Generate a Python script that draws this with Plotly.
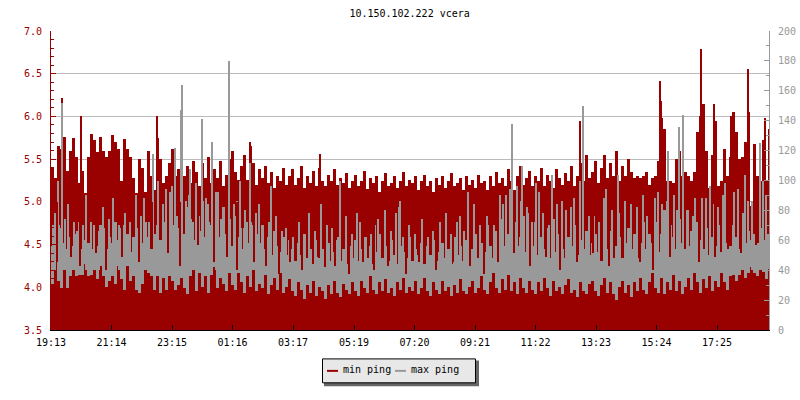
import plotly.graph_objects as go

title_text = "10.150.102.222 vcera"
series_names = ["min ping", "max ping"]
tick_minutes = [0, 121, 242, 363, 484, 606, 727, 848, 969, 1090, 1211, 1332]
tick_labels = ["19:13", "21:14", "23:15", "01:16", "03:17", "05:19", "07:20", "09:21", "11:22", "13:23", "15:24", "17:25"]

# min ping envelope, left axis, one value per 6 minutes
min_ping = [
5.41,5.28,5.65,5.62,5.76,5.36,5.60,5.75,5.52,5.22,5.36,5.10,5.52,5.80,5.72,5.58,5.76,5.60,5.52,5.60,
5.78,5.70,5.62,5.25,5.73,5.62,5.52,5.28,5.10,5.50,5.40,5.12,5.60,5.30,5.14,5.75,5.50,5.22,5.30,5.45,
5.62,5.30,5.38,5.55,5.30,5.42,5.22,5.48,5.35,5.18,5.45,5.28,5.52,5.22,5.38,5.28,5.48,5.18,5.32,5.50,
5.60,5.35,5.26,5.42,5.55,5.26,5.65,5.45,5.20,5.38,5.28,5.42,5.22,5.35,5.16,5.30,5.24,5.40,5.20,5.30,
5.38,5.20,5.28,5.42,5.16,5.30,5.22,5.36,5.18,5.40,5.25,5.18,5.32,5.24,5.38,5.20,5.28,5.22,5.34,5.16,
5.25,5.32,5.18,5.24,5.36,5.15,5.28,5.22,5.30,5.12,5.24,5.34,5.18,5.22,5.30,5.16,5.24,5.35,5.18,5.26,
5.22,5.30,5.14,5.24,5.32,5.18,5.25,5.12,5.28,5.20,5.30,5.16,5.24,5.34,5.18,5.22,5.28,5.14,5.30,5.20,
5.26,5.16,5.32,5.22,5.25,5.14,5.30,5.18,5.35,5.22,5.28,5.18,5.38,5.24,5.14,5.30,5.42,5.20,5.28,5.36,
5.18,5.30,5.24,5.40,5.18,5.32,5.25,5.16,5.38,5.28,5.20,5.34,5.24,5.42,5.18,5.30,5.45,5.24,5.55,5.28,
5.35,5.48,5.22,5.40,5.55,5.28,5.45,5.30,5.60,5.25,5.42,5.30,5.50,5.35,5.28,5.30,5.28,5.30,5.35,5.20,
5.28,5.30,5.48,5.98,5.85,5.24,5.24,5.22,5.50,5.60,5.30,5.35,5.30,5.24,5.35,5.82,6.00,6.15,5.60,5.16,
5.55,5.95,5.18,5.25,5.62,5.30,5.52,6.05,5.82,5.50,5.52,5.70,6.05,4.95,5.68,5.30,5.24,5.72,5.24,5.85,
]
# max ping solid band, right axis
max_floor = [
31,48,33,28,40,28,36,40,36,37,37,44,36,37,40,34,43,36,29,33,
36,31,43,34,27,43,33,36,27,25,31,40,38,36,27,36,25,35,27,36,
33,27,30,35,28,24,36,40,26,38,29,36,25,37,42,28,35,31,26,38,
30,27,38,32,25,36,29,40,26,31,28,37,24,30,35,27,38,25,29,34,
26,23,32,27,21,30,25,33,23,29,26,21,30,24,33,25,22,31,27,24,
32,26,23,33,28,25,36,27,24,32,26,34,25,28,23,32,27,35,25,29,
26,33,24,28,35,26,23,32,27,24,33,26,29,23,30,25,34,26,24,29,
33,25,28,36,27,24,32,38,28,25,34,27,37,26,32,24,35,28,25,33,
27,24,32,26,35,28,23,33,26,29,24,30,34,25,27,22,32,26,24,31,
33,26,23,30,35,25,32,24,20,29,33,25,30,22,32,26,35,27,24,32,
38,28,25,35,24,32,27,37,26,33,24,29,35,27,38,32,25,34,28,36,
26,33,29,38,32,27,36,37,33,37,40,35,38,42,38,36,40,39,34,41,
]
max_band = [
56,60,70,64,58,54,62,56,64,72,54,60,58,54,66,56,70,68,54,62,
58,72,60,68,70,64,52,62,68,66,58,72,62,54,64,70,60,72,64,58,
70,62,68,76,64,82,74,60,78,66,86,62,72,58,80,66,62,82,64,74,
56,76,62,54,68,58,72,52,64,58,70,54,62,50,66,56,52,62,50,60,
54,46,58,50,64,48,54,44,60,48,54,42,58,46,52,60,46,54,44,56,
48,60,46,54,62,48,56,44,52,64,48,56,46,60,50,44,56,52,48,62,
46,54,50,58,44,56,50,60,46,52,58,48,54,44,62,50,56,46,60,48,
54,64,48,58,52,70,56,48,66,54,74,56,64,50,72,56,62,76,52,64,
56,72,50,62,54,68,48,58,52,64,54,48,62,56,70,50,60,54,66,50,
58,64,52,46,60,54,66,48,56,62,48,58,68,54,64,48,58,72,54,64,
58,72,52,64,80,56,70,62,54,74,58,80,56,66,52,72,60,54,68,50,
62,56,70,52,64,58,56,70,62,54,64,58,66,60,64,58,68,60,64,64,
]
# tall single-sample peaks
red_peak_minutes = [22, 60, 212, 398, 538, 1058, 1218, 1220, 1222, 1300, 1326, 1360, 1366, 1394, 1394, 1428]
red_peak_values = [6.21, 6.00, 6.00, 5.70, 5.56, 5.95, 6.42, 6.18, 5.95, 6.79, 6.15, 6.00, 5.98, 6.30, 6.55, 5.98]
gray_peak_minutes = [14, 22, 204, 230, 248, 260, 262, 278, 302, 322, 356, 378, 398, 440, 578, 698, 834, 898, 922, 942, 970, 1002, 1058, 1064, 1110, 1134, 1208, 1234, 1256, 1264, 1288, 1318, 1348, 1388, 1418, 1424]
gray_peak_values = [100, 152, 118, 94, 122, 147, 164, 108, 141, 126, 180, 100, 112, 96, 100, 86, 92, 90, 138, 110, 98, 104, 100, 150, 94, 104, 88, 120, 136, 144, 88, 96, 98, 104, 125, 100]
gray_spike_minutes = [4, 8, 18, 28, 34, 46, 52, 64, 70, 80, 86, 96, 104, 116, 124, 136, 148, 158, 170, 180, 186, 196, 214, 224, 238, 252, 270, 284, 290, 304, 310, 318, 330, 340, 346, 358, 366, 380, 388, 402, 410, 424, 436, 450, 462, 470, 484, 496, 508, 516, 528, 540, 552, 562, 574, 590, 602, 618, 630, 640, 654, 668, 680, 690, 704, 716, 728, 742, 754, 764, 778, 790, 800, 812, 826, 846, 858, 872, 886, 910, 932, 952, 962, 984, 996, 1012, 1030, 1046, 1076, 1096, 1122, 1148, 1172, 1192, 1222, 1246, 1274, 1302, 1334, 1366, 1402,
    242, 258, 276, 296, 314, 334, 352, 372, 392, 416, 568, 612, 648, 696, 736, 770, 818, 866, 904, 918, 940, 956, 976, 1006, 1022, 1040, 1086, 1106, 1136, 1160, 1184, 1204, 1214, 1232, 1252, 1284, 1310, 1326, 1344, 1374, 1384, 1394, 1410, 1430]
gray_spike_values = [70, 78, 68, 74, 84, 72, 66, 70, 90, 72, 70, 66, 82, 74, 88, 70, 78, 72, 90, 76, 88, 72, 100, 84, 92, 76, 86, 72, 98, 76, 88, 70, 92, 74, 78, 70, 84, 68, 80, 70, 78, 66, 72, 76, 66, 68, 62, 72, 64, 78, 66, 84, 70, 68, 62, 76, 64, 72, 62, 64, 74, 80, 66, 78, 62, 70, 64, 74, 62, 66, 72, 78, 64, 72, 66, 84, 70, 76, 70, 90, 96, 82, 72, 78, 70, 84, 80, 88, 76, 72, 80, 86, 82, 76, 84, 90, 80, 88, 82, 92, 86,
    96, 84, 90, 76, 84, 92, 78, 86, 72, 84, 72, 78, 70, 82, 74, 68, 76, 70, 84, 94, 86, 78, 92, 74, 86, 82, 76, 88, 78, 84, 90, 78, 92, 86, 80, 76, 88, 84, 90, 94, 78, 86, 82, 90]
# thin min-ping streaks that show through the max-ping band
streak_minutes = [12, 40, 58, 90, 110, 142, 176, 202, 234, 258, 294, 326, 352, 372, 406, 430, 456, 478, 502, 534, 568, 596, 624, 646, 674, 710, 736, 770, 804, 838, 866, 894, 926, 958, 990, 1018, 1052, 1084, 1116, 1142, 1178, 1204, 1238, 1268, 1296, 1328, 1354, 1380, 1410]
streak_floor = [4.30, 4.35, 4.25, 4.40, 4.20, 4.35, 4.30, 4.45, 4.40, 4.25, 4.50, 4.30, 4.35, 4.20, 4.30, 4.25, 4.15, 4.30, 4.20, 4.35, 4.25, 4.15, 4.30, 4.20, 4.25, 4.15, 4.30, 4.20, 4.30, 4.25, 4.15, 4.30, 4.40, 4.25, 4.35, 4.20, 4.30, 4.40, 4.25, 4.35, 4.30, 4.20, 4.35, 4.45, 4.30, 4.35, 4.45, 4.40, 4.50]

RED = "#990000"
GRAY = "#999999"
MONO = "DejaVu Sans Mono"

col_minutes = [6 * i + 3 for i in range(len(min_ping))]

fig = go.Figure()
fig.add_bar(x=col_minutes, y=min_ping, width=6, marker=dict(color=RED, line=dict(width=0)), name=series_names[0], yaxis="y", showlegend=False)
fig.add_bar(x=red_peak_minutes, y=red_peak_values, width=2, marker=dict(color=RED, line=dict(width=0)), name=series_names[0], yaxis="y", showlegend=False)
fig.add_bar(x=col_minutes, y=[t - f for t, f in zip(max_band, max_floor)], base=max_floor, width=6, marker=dict(color=GRAY, line=dict(width=0)), name=series_names[1], yaxis="y2", showlegend=False)
fig.add_bar(x=gray_spike_minutes, y=[v - 40 for v in gray_spike_values], base=40, width=2, marker=dict(color=GRAY, line=dict(width=0)), name=series_names[1], yaxis="y2", showlegend=False)
fig.add_bar(x=gray_peak_minutes, y=[v - 40 for v in gray_peak_values], base=40, width=2, marker=dict(color=GRAY, line=dict(width=0)), name=series_names[1], yaxis="y2", showlegend=False)
fig.add_bar(x=streak_minutes, y=[5.0 - f for f in streak_floor], base=streak_floor, width=2, marker=dict(color=RED, line=dict(width=0)), name=series_names[0], yaxis="y3", showlegend=False)

L, R, T, B = 51, 769, 30.5, 330.5
def px(x):
    return (x - L) / (R - L)
def py(y):
    return (B - y) / (B - T)

shapes = [
    dict(type="rect", xref="paper", yref="paper", x0=px(324), x1=px(479), y0=py(361), y1=py(387), fillcolor="#666666", line=dict(width=0), layer="above"),
    dict(type="rect", xref="paper", yref="paper", x0=px(322.5), x1=px(475.5), y0=py(359.5), y1=py(383.5), fillcolor="#e8e8e8", line=dict(color="black", width=1), layer="above"),
    dict(type="line", xref="paper", yref="paper", x0=px(327), x1=px(338), y0=py(371.5), y1=py(371.5), line=dict(color=RED, width=2), layer="above"),
    dict(type="line", xref="paper", yref="paper", x0=px(395), x1=px(406), y0=py(371.5), y1=py(371.5), line=dict(color=GRAY, width=2), layer="above"),
]
annotations = [
    dict(text=series_names[0], xref="paper", yref="paper", x=px(341.5), y=py(370.5), xanchor="left", yanchor="middle", showarrow=False, borderpad=0, font=dict(family=MONO, size=10, color="black")),
    dict(text=series_names[1], xref="paper", yref="paper", x=px(409.5), y=py(370.5), xanchor="left", yanchor="middle", showarrow=False, borderpad=0, font=dict(family=MONO, size=10, color="black")),
]

fig.update_layout(
    width=800, height=400, autosize=False,
    margin=dict(l=51, r=31, t=30.5, b=69.5, pad=0, autoexpand=False),
    paper_bgcolor="white", plot_bgcolor="white",
    barmode="overlay", bargap=0, showlegend=False,
    title=dict(text=title_text, x=0.512, xanchor="center", y=1 - 13.5 / 400, yanchor="middle", yref="container", font=dict(family=MONO, size=10, color="black")),
    xaxis=dict(range=[0, 1436], automargin=False, tickmode="array", tickvals=tick_minutes, ticktext=tick_labels, ticks="inside", ticklen=5, tickwidth=1, tickcolor="black", showline=True, linecolor="black", linewidth=1, showgrid=False, zeroline=False, ticklabelstandoff=3, tickfont=dict(family=MONO, size=10, color="black"), tickangle=0),
    yaxis=dict(range=[3.5, 7], automargin=False, tick0=3.5, dtick=0.5, tickformat=".1f", ticks="inside", ticklen=5, tickwidth=1, tickcolor=RED, showline=True, linecolor=RED, linewidth=1, showgrid=True, gridcolor="#bbbbbb", gridwidth=1, zeroline=False, ticklabelstandoff=6, tickfont=dict(family=MONO, size=10, color=RED), minor=dict(dtick=0.1, ticks="inside", ticklen=3, tickwidth=1, tickcolor=RED, showgrid=False)),
    yaxis2=dict(range=[0, 200], automargin=False, overlaying="y", side="right", tick0=0, dtick=20, ticks="inside", ticklen=5, tickwidth=1, tickcolor=GRAY, showline=True, linecolor=GRAY, linewidth=1, showgrid=False, zeroline=False, ticklabelstandoff=6, tickfont=dict(family=MONO, size=10, color=GRAY), minor=dict(dtick=10, ticks="inside", ticklen=3, tickwidth=1, tickcolor=GRAY, showgrid=False)),
    yaxis3=dict(range=[3.5, 7], automargin=False, overlaying="y", side="left", visible=False),
    shapes=shapes, annotations=annotations,
)
fig.write_html("out.html", config={"displayModeBar": False}, post_script='document.body.style.margin="0";')
